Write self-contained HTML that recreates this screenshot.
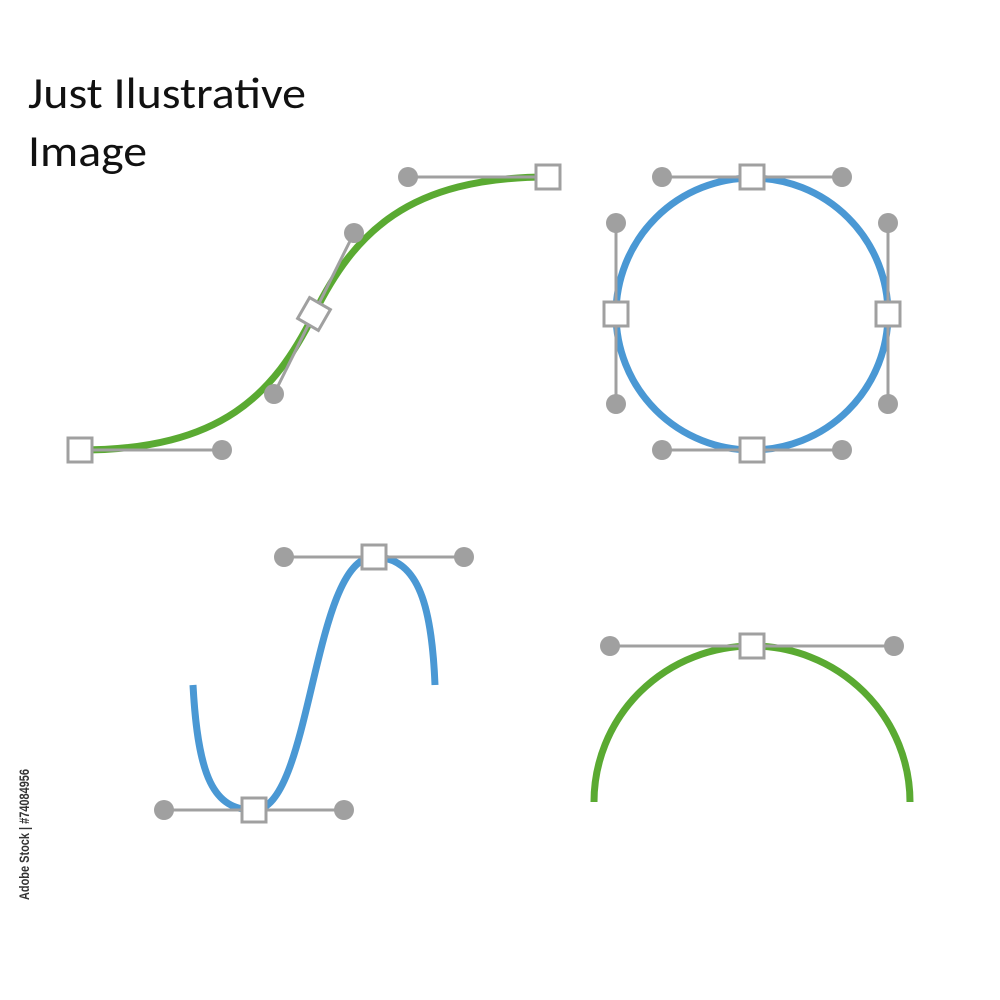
<!DOCTYPE html>
<html><head><meta charset="utf-8"><style>
html,body{margin:0;padding:0;background:#fff;width:1000px;height:1000px;overflow:hidden}
svg{display:block}
</style></head><body>
<svg id="art" width="1000" height="1000" viewBox="0 0 1000 1000" xmlns="http://www.w3.org/2000/svg">
<text x="28" y="108" font-family="Carlito, 'Liberation Sans', sans-serif" font-size="44" textLength="278" lengthAdjust="spacingAndGlyphs" fill="#111">Just Ilustrative</text>
<text x="28" y="166" font-family="Carlito, 'Liberation Sans', sans-serif" font-size="44" textLength="119" lengthAdjust="spacingAndGlyphs" fill="#111">Image</text>
<text transform="translate(29,900) rotate(-90)" font-family="'Liberation Sans', sans-serif" font-size="14" font-weight="bold" textLength="131" lengthAdjust="spacingAndGlyphs" fill="#333">Adobe Stock | #74084956</text>
<g id="curves"></g>
<g id="handles"></g>
<g id="anchors"></g>
</svg>
<script>
const NS='http://www.w3.org/2000/svg';
const GRAY='#a0a0a0';
// curve paths
const curvePaths=[
 {name:'green-s-curve',color:'#5aaa32',d:'M80,450 C222,450 274,394 314,314 C354,233 408,177 548,177'},
 {name:'blue-circle',color:'#4a98d4',d:'M752,178 A136,136 0 1 1 752,450 A136,136 0 1 1 752,178 Z'},
 {name:'blue-wave-curve',color:'#4a98d4',d:'M193,685 C198,778 214,810 254,810 C312,810 312,557 374,557 C420,557 432,610 435,685'},
 {name:'green-arch-curve',color:'#5aaa32',d:'M594,802 A158,156 0 0 1 910,802'}
];
// handles: [x1,y1,x2,y2] dot-to-dot
const handleLines=[[80,450,222,450],[274,394,354,233],[408,177,548,177],
 [662,177,842,177],[616,223,616,404],[888,223,888,404],[662,450,842,450],
 [164,810,344,810],[284,557,464,557],[610,646,894,646]];
const dots=[[222,450],[274,394],[354,233],[408,177],[662,177],[842,177],[616,223],[616,404],[888,223],[888,404],[662,450],[842,450],[164,810],[344,810],[284,557],[464,557],[610,646],[894,646]];
// anchors: x,y,rotation
const anchors=[[80,450,0],[314,314,-60],[548,177,0],[752,177,0],[616,314,0],[888,314,0],[752,450,0],[254,810,0],[374,557,0],[752,646,0]];
const gc=document.getElementById('curves'),gh=document.getElementById('handles'),ga=document.getElementById('anchors');
curvePaths.forEach(c=>{const p=document.createElementNS(NS,'path');


p.setAttribute('d',c.d);p.setAttribute('fill','none');p.setAttribute('stroke',c.color);p.setAttribute('stroke-width','7');gc.appendChild(p);});
handleLines.forEach(h=>{const l=document.createElementNS(NS,'line');


l.setAttribute('x1',h[0]);l.setAttribute('y1',h[1]);l.setAttribute('x2',h[2]);l.setAttribute('y2',h[3]);l.setAttribute('stroke',GRAY);l.setAttribute('stroke-width','3');gh.appendChild(l);});
dots.forEach(d=>{const c=document.createElementNS(NS,'circle');


c.setAttribute('cx',d[0]);c.setAttribute('cy',d[1]);c.setAttribute('r','10');c.setAttribute('fill',GRAY);gh.appendChild(c);});
anchors.forEach(a=>{const r=document.createElementNS(NS,'rect');


r.setAttribute('x',a[0]-12);r.setAttribute('y',a[1]-12);r.setAttribute('width','24');r.setAttribute('height','24');
r.setAttribute('fill','#fff');r.setAttribute('stroke',GRAY);r.setAttribute('stroke-width','3');
r.setAttribute('transform','rotate('+a[2]+' '+a[0]+' '+a[1]+')');ga.appendChild(r);});
</script>
</body></html>
